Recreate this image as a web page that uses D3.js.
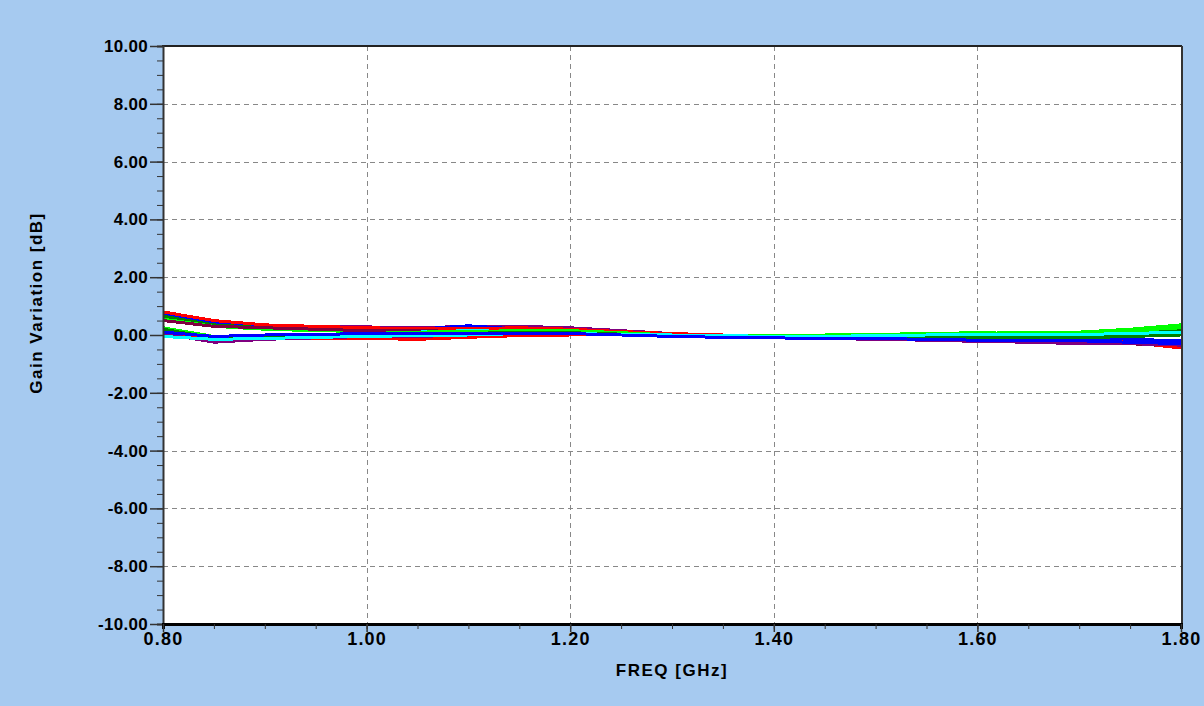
<!DOCTYPE html>
<html>
<head>
<meta charset="utf-8">
<script src="https://cdn.jsdelivr.net/npm/d3@7"></script>
<style>
  html, body { margin: 0; padding: 0; background: #A6CAF0; }
  svg { display: block; }
  text { font-family: "Liberation Sans", Arial, sans-serif; font-weight: bold; fill: #000; }
</style>
</head>
<body>
<svg id="chart" width="1204" height="706"></svg>
<script>
// ---- data ----
const freqs = [0.80, 0.85, 0.90, 0.95, 1.00, 1.05, 1.10, 1.15, 1.20, 1.25, 1.30,
               1.35, 1.40, 1.45, 1.50, 1.55, 1.60, 1.65, 1.70, 1.75, 1.80];

const xTickValues = [0.80, 1.00, 1.20, 1.40, 1.60, 1.80];
const yTickValues = [10, 8, 6, 4, 2, 0, -2, -4, -6, -8, -10];
const xLabel = "FREQ [GHz]";
const yLabel = "Gain Variation [dB]";

const seriesColors = ["#008080", "#800080", "#0000ff", "#008000", "#00ff00", "#ff0000", "#800040",
                      "#00ff00", "#00ffff", "#0000ff", "#ff0000", "#800080", "#00ff00", "#008000",
                      "#00ffff", "#0000ff"];

const gainSeries = [
  [0.60, 0.35, 0.28, 0.25, 0.22, 0.20, 0.20, 0.22, 0.20, 0.10, 0.03, -0.02, -0.05, -0.03, -0.03, 0.00, 0.00, 0.05, 0.05, 0.10, 0.20],
  [0.75, 0.45, 0.35, 0.30, 0.28, 0.25, 0.30, 0.30, 0.25, 0.15, 0.05, -0.02, -0.05, -0.08, -0.10, -0.12, -0.15, -0.20, -0.25, -0.25, -0.30],
  [0.70, 0.40, 0.30, 0.25, 0.20, 0.20, 0.32, 0.20, 0.15, 0.10, 0.05, 0.00, -0.02, -0.05, -0.08, -0.10, -0.10, -0.10, -0.10, -0.15, -0.20],
  [0.65, 0.35, 0.25, 0.22, 0.20, 0.18, 0.18, 0.20, 0.18, 0.12, 0.05, 0.00, -0.05, -0.08, -0.05, -0.05, -0.05, -0.05, 0.00, 0.05, 0.15],
  [0.55, 0.30, 0.20, 0.15, 0.12, 0.12, 0.15, 0.22, 0.15, 0.10, 0.02, -0.02, -0.05, -0.05, 0.00, 0.02, 0.05, 0.10, 0.10, 0.20, 0.35],
  [0.80, 0.50, 0.35, 0.30, 0.25, 0.22, 0.22, 0.25, 0.20, 0.12, 0.05, 0.00, -0.05, -0.05, -0.08, -0.10, -0.12, -0.15, -0.20, -0.25, -0.35],
  [0.50, 0.30, 0.25, 0.20, 0.15, 0.15, 0.12, 0.15, 0.10, 0.05, 0.00, -0.05, -0.08, -0.10, -0.12, -0.15, -0.18, -0.20, -0.25, -0.30, -0.40],
  [0.20, -0.15, -0.10, -0.05, 0.00, 0.05, 0.10, 0.15, 0.15, 0.08, 0.00, -0.05, -0.08, -0.05, -0.02, 0.00, 0.05, 0.05, 0.05, 0.10, 0.30],
  [0.10, -0.10, -0.05, 0.00, 0.05, 0.10, 0.15, 0.12, 0.10, 0.05, 0.00, -0.03, -0.05, -0.02, 0.00, 0.02, 0.03, 0.05, 0.05, 0.05, 0.10],
  [0.00, -0.20, -0.10, -0.05, 0.00, 0.05, 0.08, 0.10, 0.08, 0.02, -0.02, -0.05, -0.10, -0.10, -0.12, -0.15, -0.15, -0.15, -0.15, -0.20, -0.25],
  [0.15, -0.15, -0.12, -0.12, -0.12, -0.15, -0.08, -0.02, 0.00, 0.00, -0.05, -0.05, -0.05, -0.08, -0.10, -0.10, -0.10, -0.15, -0.20, -0.25, -0.45],
  [0.05, -0.25, -0.15, -0.10, -0.05, -0.05, 0.00, 0.05, 0.05, 0.00, -0.05, -0.08, -0.10, -0.12, -0.15, -0.18, -0.22, -0.25, -0.30, -0.30, -0.35],
  [0.25, -0.05, 0.00, 0.00, 0.05, 0.10, 0.12, 0.15, 0.12, 0.05, 0.00, -0.02, -0.02, 0.00, 0.02, 0.05, 0.08, 0.05, 0.10, 0.15, 0.25],
  [0.20, -0.10, -0.05, 0.00, 0.02, 0.05, 0.05, 0.10, 0.08, 0.03, -0.02, -0.05, -0.08, -0.08, -0.05, -0.05, -0.08, -0.10, -0.10, -0.05, 0.00],
  [-0.05, -0.15, -0.12, -0.08, -0.05, -0.02, 0.00, 0.05, 0.05, 0.02, 0.00, -0.02, -0.05, -0.05, -0.02, 0.00, 0.02, 0.00, 0.02, 0.05, 0.10],
  [0.10, -0.05, 0.00, 0.02, 0.05, 0.05, 0.05, 0.05, 0.05, 0.00, -0.05, -0.08, -0.10, -0.12, -0.12, -0.15, -0.18, -0.20, -0.20, -0.25, -0.30]
];

// ---- layout ----
const plot = { left: 163, top: 46, right: 1181, bottom: 624 };
const svg = d3.select("#chart");
const fmt = d => d3.format(".2f")(d).replace("\u2212", "-");

const x = d3.scaleLinear().domain([0.8, 1.8]).range([plot.left, plot.right]);
const y = d3.scaleLinear().domain([-10, 10]).range([plot.bottom, plot.top]);

// plot background
svg.append("rect")
  .attr("x", plot.left).attr("y", plot.top)
  .attr("width", plot.right - plot.left).attr("height", plot.bottom - plot.top)
  .attr("fill", "#fff");

// grid
const grid = svg.append("g").attr("shape-rendering", "crispEdges");
grid.selectAll("line.gx").data(xTickValues.slice(1, -1)).join("line")
  .attr("x1", d => Math.round(x(d)) + 0.5).attr("x2", d => Math.round(x(d)) + 0.5)
  .attr("y1", plot.top).attr("y2", plot.bottom)
  .attr("stroke", "#888").attr("stroke-dasharray", "5,4");
grid.selectAll("line.gy").data(yTickValues.slice(1, -1)).join("line")
  .attr("y1", d => Math.round(y(d)) + 0.5).attr("y2", d => Math.round(y(d)) + 0.5)
  .attr("x1", plot.left).attr("x2", plot.right)
  .attr("stroke", "#888").attr("stroke-dasharray", "5,4");

// curves
const line = d3.line().x((d, i) => x(freqs[i])).y(d => y(d));
svg.append("g").selectAll("path").data(gainSeries).join("path")
  .attr("d", line)
  .attr("fill", "none")
  .attr("stroke", (d, i) => seriesColors[i])
  .attr("stroke-width", 3)
  .attr("shape-rendering", "crispEdges");

// frame
const frame = svg.append("g").attr("shape-rendering", "crispEdges");
frame.append("line").attr("x1", plot.left - 1).attr("x2", plot.right + 1).attr("y1", plot.top).attr("y2", plot.top)
  .attr("stroke", "#222").attr("stroke-width", 2);
frame.append("line").attr("x1", plot.right + 1).attr("x2", plot.right + 1).attr("y1", plot.top).attr("y2", plot.bottom)
  .attr("stroke", "#333").attr("stroke-width", 2);

// y axis
const yMinor = d3.range(-10, 10.01, 0.5);
svg.append("g").attr("transform", `translate(${plot.left},0)`)
  .call(d3.axisLeft(y).tickValues(yMinor).tickSize(6).tickFormat(""))
  .call(g => g.select(".domain").attr("stroke", "#333").attr("stroke-width", 2))
  .call(g => g.selectAll(".tick line").attr("stroke", "#333").attr("stroke-width", 1));
svg.append("g").attr("transform", `translate(${plot.left},0)`)
  .call(d3.axisLeft(y).tickValues(yTickValues).tickSize(13).tickPadding(2).tickFormat(fmt))
  .call(g => g.select(".domain").remove())
  .call(g => g.selectAll(".tick line").attr("stroke", "#333").attr("stroke-width", 1.5))
  .call(g => g.selectAll(".tick text")
    .attr("font-family", '"Liberation Sans", Arial, sans-serif')
    .attr("font-weight", "bold").attr("font-size", 17).attr("letter-spacing", "0.3px")
    .attr("fill", "#000"));

// x axis
const xMinor = d3.range(0.8, 1.8001, 0.05);
svg.append("g").attr("transform", `translate(0,${plot.bottom})`)
  .call(d3.axisBottom(x).tickValues(xMinor).tickSize(5).tickFormat(""))
  .call(g => g.select(".domain").attr("stroke", "#000").attr("stroke-width", 3))
  .call(g => g.selectAll(".tick line").attr("stroke", "#333"));
svg.append("g").attr("transform", `translate(0,${plot.bottom})`)
  .call(d3.axisBottom(x).tickValues(xTickValues).tickSize(8).tickPadding(0).tickFormat(fmt))
  .call(g => g.select(".domain").remove())
  .call(g => g.selectAll(".tick line").attr("stroke", "#333").attr("stroke-width", 1.5))
  .call(g => g.selectAll(".tick text")
    .attr("font-family", '"Liberation Sans", Arial, sans-serif')
    .attr("font-weight", "bold").attr("font-size", 18).attr("letter-spacing", "1.2px")
    .attr("fill", "#000"));

// axis titles
svg.append("text")
  .attr("x", 672).attr("y", 676)
  .attr("text-anchor", "middle")
  .attr("font-size", 17).attr("letter-spacing", "1.5px")
  .text(xLabel);

svg.append("text")
  .attr("transform", "translate(42,303) rotate(-90)")
  .attr("text-anchor", "middle")
  .attr("font-size", 17).attr("letter-spacing", "1.5px")
  .text(yLabel);
</script>
</body>
</html>
